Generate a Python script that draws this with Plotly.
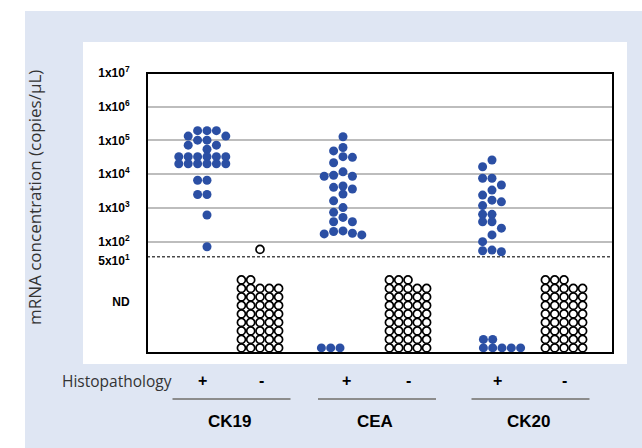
import plotly.graph_objects as go

# ---------------- data (log10 copies/uL as plotted) ----------------
markers = ["CK19", "CEA", "CK20"]
histo_labels = ["+", "-"]

ck19_pos = [5.29, 5.29, 5.29, 5.13, 5.13, 5.01, 5.01, 4.86, 4.86, 4.74,
            4.52, 4.52, 4.52, 4.52, 4.52, 4.52, 4.31, 4.31, 4.31, 4.31, 4.31,
            4.31, 3.82, 3.82, 3.40, 3.40, 2.79, 1.85]
ck19_neg = [1.77]
cea_pos = [5.11, 4.79, 4.69, 4.52, 4.50, 4.34, 4.07, 3.97, 3.94, 3.94, 3.65,
           3.61, 3.56, 3.41, 3.21, 3.01, 2.87, 2.72, 2.59, 2.59, 2.32, 2.30,
           2.25, 2.23, 2.20]
cea_neg = []
ck20_pos = [4.42, 4.22, 3.88, 3.88, 3.68, 3.53, 3.38, 3.23, 3.18, 3.07, 2.81,
            2.81, 2.59, 2.59, 2.40, 2.20, 2.00, 1.75, 1.73, 1.70]
ck20_neg = []

# samples not detected (ND)
nd_pos = [0, 3, 7]
nd_neg = [42, 43, 43]

ytick_vals = [7, 6, 5, 4, 3, 2]
ytick_text = ["1x10<sup>7</sup>", "1x10<sup>6</sup>", "1x10<sup>5</sup>",
              "1x10<sup>4</sup>", "1x10<sup>3</sup>", "1x10<sup>2</sup>"]
lod_label = "5x10<sup>1</sup>"
nd_label = "ND"

# ---------------- layout constants ----------------
W, H = 642, 448
ML, MR, MT, MB = 147, 29, 73, 95
PW, PH = W - ML - MR, H - MT - MB
Y_RANGE = [-1.30, 7.0]
PX_PER_UNIT = PH / (Y_RANGE[1] - Y_RANGE[0])
LOD_POS = 1.555
LOD_LABEL_POS = 1.44
ND_LABEL_POS = 0.22
ND_BASE = -1.15
LABEL_X = [[55, 114], [199, 261], [350, 417]]
SWARM_X = [[60, 113], [196, 261], [345, 417]]
ND_X = [[58, 113], [193, 261], [355, 417]]
BLUE = "#2b4fa4"
DOT = 9.0
STEP = 9.4
MIN_SEP = 7.0
ND_COL = 9.3
ND_ROW = 8.5 / PX_PER_UNIT


def swarm(vals, center):
    xs, ys = [], []
    offs = [0]
    for k in range(1, 8):
        offs += [-k * STEP, k * STEP]
    for v in sorted(vals, reverse=True):
        for o in offs:
            cx = center + o
            ok = True
            for px, py in zip(xs, ys):
                dx = cx - px
                dy = (v - py) * PX_PER_UNIT
                if abs(dx) < 1 and abs(dy) < MIN_SEP:
                    ok = False
                    break
            if ok:
                xs.append(cx)
                ys.append(v)
                break
    return xs, ys


def nd_grid(n, center):
    xs, ys = [], []
    for i in range(n):
        r, c = divmod(i, 5)
        xs.append(center + (c - 2) * ND_COL)
        ys.append(ND_BASE + r * ND_ROW)
    return xs, ys


fig = go.Figure()

pos_sets = [ck19_pos, cea_pos, ck20_pos]
neg_sets = [ck19_neg, cea_neg, ck20_neg]

for i, m in enumerate(markers):
    x, y = swarm(pos_sets[i], SWARM_X[i][0])
    xn, yn = nd_grid(nd_pos[i], ND_X[i][0])
    fig.add_trace(go.Scatter(x=x + xn, y=y + yn, mode="markers",
                             marker=dict(size=DOT, color=BLUE, line=dict(width=0)),
                             name=m + " +", showlegend=False, cliponaxis=False))
    x, y = swarm(neg_sets[i], SWARM_X[i][1])
    xn, yn = nd_grid(nd_neg[i], ND_X[i][1])
    fig.add_trace(go.Scatter(x=x + xn, y=y + yn, mode="markers",
                             marker=dict(size=8, color="white",
                                         line=dict(width=1.7, color="black")),
                             name=m + " -", showlegend=False, cliponaxis=False))


def px2paper_x(px):
    return (px - ML) / PW


def px2paper_y(py):
    return (H - MB - py) / PH


shapes = [
    dict(type="rect", xref="paper", yref="paper", layer="below",
         x0=px2paper_x(25), x1=px2paper_x(650), y0=px2paper_y(450), y1=px2paper_y(11),
         fillcolor="#dfe6f3", line=dict(width=0)),
    dict(type="rect", xref="paper", yref="paper", layer="below",
         x0=px2paper_x(83), x1=px2paper_x(627), y0=px2paper_y(364), y1=px2paper_y(42),
         fillcolor="white", line=dict(width=0)),
    dict(type="line", xref="paper", yref="y", x0=0, x1=1, y0=LOD_POS, y1=LOD_POS,
         line=dict(color="#4a4a4a", width=1.5, dash="3px,2px")),
    dict(type="rect", xref="paper", yref="paper", x0=0, x1=1, y0=0, y1=1,
         line=dict(color="black", width=2), fillcolor="rgba(0,0,0,0)"),
]
annotations = [
    dict(text="mRNA concentration (copies/μL)", xref="paper", yref="paper",
         x=px2paper_x(34), y=px2paper_y(198), xanchor="center", yanchor="middle",
         textangle=-90, showarrow=False,
         font=dict(family="Open Sans", size=17, color="#333333")),
    dict(text="Histopathology", xref="paper", yref="paper",
         x=px2paper_x(117), y=px2paper_y(381), xanchor="center", yanchor="middle",
         showarrow=False,
         font=dict(family="Open Sans", size=15.5, color="#333333")),
]
for i, m in enumerate(markers):
    for xc, lab in zip(LABEL_X[i], histo_labels):
        annotations.append(dict(text="<b>" + lab + "</b>", xref="x", yref="paper",
                                x=xc, y=px2paper_y(380), xanchor="center",
                                yanchor="middle", showarrow=False,
                                font=dict(family="Liberation Sans", size=16, color="black")))
    mid = sum(LABEL_X[i]) / 2
    shapes.append(dict(type="line", xref="x", yref="paper", x0=mid - 59, x1=mid + 59,
                       y0=px2paper_y(399), y1=px2paper_y(399),
                       line=dict(color="#8c8c8c", width=2)))
    annotations.append(dict(text="<b>" + m + "</b>", xref="x", yref="paper",
                            x=mid - 2, y=px2paper_y(421), xanchor="center",
                            yanchor="middle", showarrow=False,
                            font=dict(family="Liberation Sans", size=17, color="black")))

fig.update_layout(
    width=W, height=H,
    margin=dict(l=ML, r=MR, t=MT, b=MB),
    paper_bgcolor="white", plot_bgcolor="white",
    shapes=shapes, annotations=annotations,
    xaxis=dict(range=[0, PW], showgrid=False, zeroline=False, showticklabels=False,
               showline=False, ticks=""),
    yaxis=dict(range=Y_RANGE, showgrid=False, zeroline=False, showline=False,
               tickmode="array",
               tickvals=ytick_vals + [LOD_LABEL_POS, ND_LABEL_POS],
               ticktext=["<b>" + t + "</b>" for t in ytick_text + [lod_label, nd_label]],
               ticks="outside", ticklen=14, tickcolor="rgba(0,0,0,0)",
               tickfont=dict(family="Liberation Sans", size=12, color="black"),
               minor=dict(tickmode="array", tickvals=[2, 3, 4, 5, 6], showgrid=True,
                          gridcolor="#bdbdbd", gridwidth=1.5, ticks="")),
)

fig.write_html("out.html",
               config={"displayModeBar": False},
               post_script="document.body.style.margin='0';"
                           "document.body.style.overflow='hidden';")
